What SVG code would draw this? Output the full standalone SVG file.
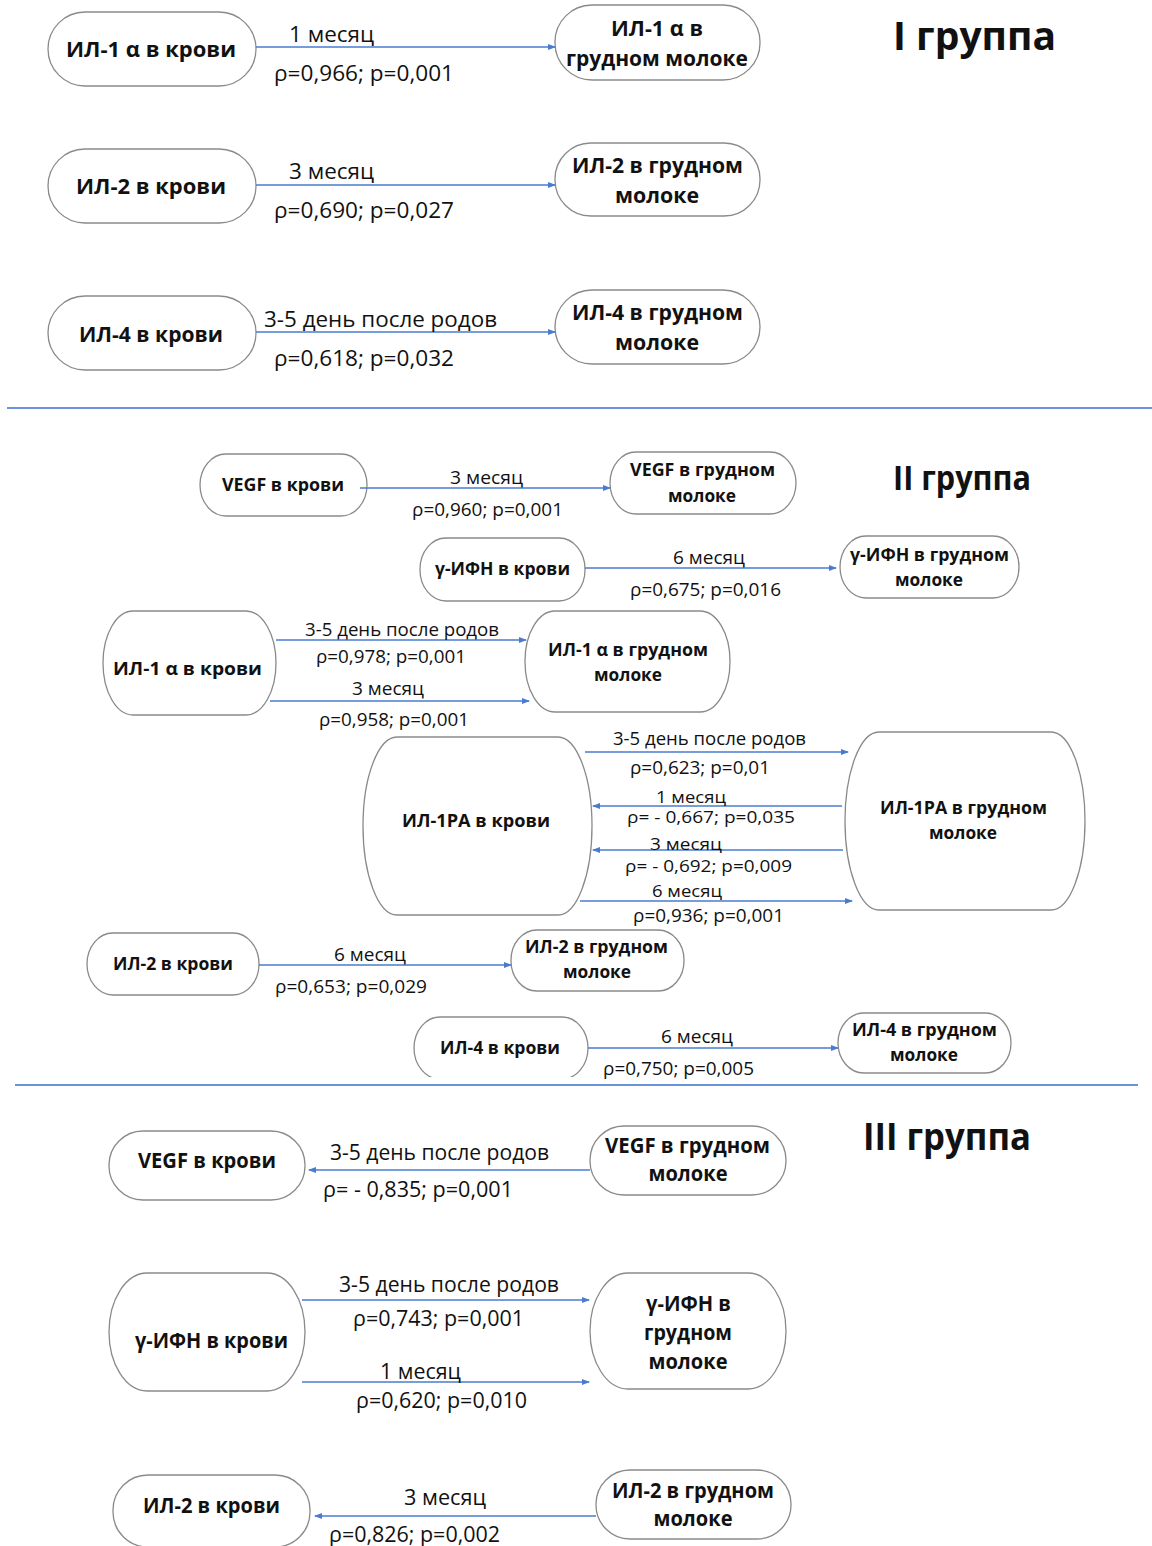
<svg xmlns="http://www.w3.org/2000/svg" width="1152" height="1546" viewBox="0 0 1152 1546">
<style>
text{font-family:"Open Sans","Noto Sans","Liberation Sans",sans-serif;fill:#111;text-anchor:middle;dominant-baseline:central}
.n{fill:#fff;stroke:#8a8a8a;stroke-width:1.3}
.b1{font-weight:700;font-size:22px}
.b2{font-weight:700;font-size:18px}
.l1{font-size:22px}
.l2{font-size:18.5px}
.l3{font-size:16.5px}
.t{font-weight:700}
.c{stroke:#4a7bd0;stroke-width:1.4;fill:none;marker-end:url(#ah)}
.sep{stroke:#3a6fcf;stroke-width:1.5}
</style>
<defs>
<marker id="ah" viewBox="0 0 8 8" refX="7" refY="4" markerWidth="8" markerHeight="8" markerUnits="userSpaceOnUse" orient="auto">
<path d="M0,1 L8,4 L0,7 Z" fill="#4a7bd0"/>
</marker>
<clipPath id="clip4"><rect x="0" y="0" width="1152" height="1077"/></clipPath>
</defs>
<rect width="1152" height="1546" fill="#fff"/>

<!-- separators -->
<line class="sep" x1="7" y1="408" x2="1152" y2="408"/>
<line class="sep" x1="15" y1="1085" x2="1138" y2="1085"/>

<!-- titles -->
<text class="t" x="974.5" y="34" font-size="40" textLength="163" lengthAdjust="spacingAndGlyphs">I  группа</text>
<text class="t" x="962" y="477" font-size="34" textLength="138" lengthAdjust="spacingAndGlyphs">II группа</text>
<text class="t" x="947" y="1135" font-size="38" textLength="168" lengthAdjust="spacingAndGlyphs">III группа</text>

<!-- ========== Group I ========== -->
<g id="g1-il1a-blood"><rect class="n" x="48" y="12" width="208" height="74" rx="37" ry="37"/><text class="b1" x="151" y="48" textLength="170" lengthAdjust="spacingAndGlyphs">ИЛ-1 α  в крови</text></g>
<g id="g1-il1a-milk"><rect class="n" x="555" y="5" width="205" height="75" rx="37" ry="37"/><text class="b1" x="657" y="27" textLength="92" lengthAdjust="spacingAndGlyphs">ИЛ-1 α в</text><text class="b1" x="657" y="57" textLength="182" lengthAdjust="spacingAndGlyphs">грудном молоке</text></g>
<g id="g1-il2-blood"><rect class="n" x="48" y="149" width="208" height="74" rx="37" ry="37"/><text class="b1" x="151" y="185" textLength="150" lengthAdjust="spacingAndGlyphs">ИЛ-2  в крови</text></g>
<g id="g1-il2-milk"><rect class="n" x="555" y="143" width="205" height="73" rx="36" ry="36"/><text class="b1" x="657.5" y="164" textLength="171" lengthAdjust="spacingAndGlyphs">ИЛ-2 в грудном</text><text class="b1" x="657" y="194" textLength="84" lengthAdjust="spacingAndGlyphs">молоке</text></g>
<g id="g1-il4-blood"><rect class="n" x="48" y="296" width="208" height="74" rx="37" ry="37"/><text class="b1" x="151" y="333" textLength="144" lengthAdjust="spacingAndGlyphs">ИЛ-4 в крови</text></g>
<g id="g1-il4-milk"><rect class="n" x="555" y="290" width="205" height="74" rx="37" ry="37"/><text class="b1" x="657.5" y="311" textLength="171" lengthAdjust="spacingAndGlyphs">ИЛ-4 в грудном</text><text class="b1" x="657" y="341" textLength="84" lengthAdjust="spacingAndGlyphs">молоке</text></g>

<!-- ========== Group II ========== -->
<g id="g2-vegf-blood"><rect class="n" x="200" y="454" width="167" height="62" rx="26" ry="31"/><text class="b2" x="283" y="484" textLength="122" lengthAdjust="spacingAndGlyphs">VEGF в крови</text></g>
<g id="g2-vegf-milk"><rect class="n" x="610" y="452" width="186" height="62" rx="26" ry="31"/><text class="b2" x="702.5" y="469" textLength="145" lengthAdjust="spacingAndGlyphs">VEGF в грудном</text><text class="b2" x="702" y="495" textLength="68" lengthAdjust="spacingAndGlyphs">молоке</text></g>
<g id="g2-ifn-blood"><rect class="n" x="420" y="538" width="165" height="63" rx="26" ry="31"/><text class="b2" x="502.5" y="568" textLength="135" lengthAdjust="spacingAndGlyphs">γ-ИФН в крови</text></g>
<g id="g2-ifn-milk"><rect class="n" x="840" y="536" width="179" height="62" rx="26" ry="31"/><text class="b2" x="929.5" y="554" textLength="159" lengthAdjust="spacingAndGlyphs">γ-ИФН в грудном</text><text class="b2" x="929" y="579" textLength="68" lengthAdjust="spacingAndGlyphs">молоке</text></g>
<g id="g2-il1a-blood"><rect class="n" x="103" y="611" width="173" height="104" rx="30" ry="52"/><text class="b2" x="187.5" y="668" textLength="149" lengthAdjust="spacingAndGlyphs">ИЛ-1 α   в крови</text></g>
<g id="g2-il1a-milk"><rect class="n" x="525" y="611" width="205" height="101" rx="30" ry="50"/><text class="b2" x="628" y="649" textLength="160" lengthAdjust="spacingAndGlyphs">ИЛ-1 α в грудном</text><text class="b2" x="628" y="674" textLength="68" lengthAdjust="spacingAndGlyphs">молоке</text></g>
<g id="g2-il1ra-blood"><rect class="n" x="363" y="737" width="229" height="178" rx="34" ry="89"/><text class="b2" x="476" y="820" textLength="148" lengthAdjust="spacingAndGlyphs">ИЛ-1РА  в крови</text></g>
<g id="g2-il1ra-milk"><rect class="n" x="845" y="732" width="240" height="178" rx="34" ry="89"/><text class="b2" x="963.5" y="807" textLength="167" lengthAdjust="spacingAndGlyphs">ИЛ-1РА в грудном</text><text class="b2" x="963" y="832" textLength="68" lengthAdjust="spacingAndGlyphs">молоке</text></g>
<g id="g2-il2-blood"><rect class="n" x="87" y="933" width="172" height="62" rx="26" ry="31"/><text class="b2" x="173" y="963" textLength="120" lengthAdjust="spacingAndGlyphs">ИЛ-2 в крови</text></g>
<g id="g2-il2-milk"><rect class="n" x="511" y="930" width="173" height="61" rx="26" ry="30"/><text class="b2" x="596.5" y="946" textLength="143" lengthAdjust="spacingAndGlyphs">ИЛ-2 в грудном</text><text class="b2" x="597" y="971" textLength="68" lengthAdjust="spacingAndGlyphs">молоке</text></g>
<g id="g2-il4-blood"><rect class="n" x="414" y="1017" width="174" height="62" rx="26" ry="31" clip-path="url(#clip4)"/><text class="b2" x="500" y="1047" textLength="120" lengthAdjust="spacingAndGlyphs">ИЛ-4 в крови</text></g>
<g id="g2-il4-milk"><rect class="n" x="838" y="1013" width="173" height="60" rx="26" ry="30"/><text class="b2" x="924.5" y="1029" textLength="145" lengthAdjust="spacingAndGlyphs">ИЛ-4 в грудном</text><text class="b2" x="924" y="1054" textLength="68" lengthAdjust="spacingAndGlyphs">молоке</text></g>

<!-- ========== Group III ========== -->
<g id="g3-vegf-blood"><rect class="n" x="109" y="1131" width="196" height="69" rx="34" ry="34"/><text class="b1" x="207" y="1159" textLength="138" lengthAdjust="spacingAndGlyphs">VEGF в крови</text></g>
<g id="g3-vegf-milk"><rect class="n" x="590" y="1126" width="196" height="69" rx="34" ry="34"/><text class="b1" x="687.5" y="1144" textLength="165" lengthAdjust="spacingAndGlyphs">VEGF в грудном</text><text class="b1" x="688" y="1172" textLength="79" lengthAdjust="spacingAndGlyphs">молоке</text></g>
<g id="g3-ifn-blood"><rect class="n" x="109" y="1273" width="196" height="118" rx="38" ry="59"/><text class="b1" x="211.5" y="1339" textLength="153" lengthAdjust="spacingAndGlyphs">γ-ИФН в крови</text></g>
<g id="g3-ifn-milk"><rect class="n" x="590" y="1273" width="196" height="116" rx="38" ry="58"/><text class="b1" x="688.5" y="1302" textLength="85" lengthAdjust="spacingAndGlyphs">γ-ИФН в</text><text class="b1" x="688" y="1331" textLength="88" lengthAdjust="spacingAndGlyphs">грудном</text><text class="b1" x="688" y="1360" textLength="79" lengthAdjust="spacingAndGlyphs">молоке</text></g>
<g id="g3-il2-blood"><rect class="n" x="113" y="1475" width="197" height="72" rx="35" ry="35"/><text class="b1" x="211.5" y="1504" textLength="137" lengthAdjust="spacingAndGlyphs">ИЛ-2 в крови</text></g>
<g id="g3-il2-milk"><rect class="n" x="596" y="1470" width="195" height="69" rx="34" ry="34"/><text class="b1" x="693" y="1489" textLength="162" lengthAdjust="spacingAndGlyphs">ИЛ-2 в грудном</text><text class="b1" x="693" y="1517" textLength="79" lengthAdjust="spacingAndGlyphs">молоке</text></g>

<!-- ========== Connectors ========== -->
<g id="connectors">
<line class="c" x1="256" y1="47" x2="555" y2="47"/>
<line class="c" x1="256" y1="185" x2="555" y2="185"/>
<line class="c" x1="256" y1="332" x2="555" y2="332"/>
<line class="c" x1="360" y1="488" x2="610" y2="488"/>
<line class="c" x1="585" y1="568" x2="836" y2="568"/>
<line class="c" x1="276" y1="640" x2="526" y2="640"/>
<line class="c" x1="270" y1="701" x2="529" y2="701"/>
<line class="c" x1="585" y1="752" x2="848" y2="752"/>
<line class="c" x1="842" y1="806" x2="593" y2="806"/>
<line class="c" x1="843" y1="850" x2="593" y2="850"/>
<line class="c" x1="580" y1="901" x2="852" y2="901"/>
<line class="c" x1="259" y1="965" x2="511" y2="965"/>
<line class="c" x1="588" y1="1048" x2="838" y2="1048"/>
<line class="c" x1="590" y1="1170" x2="309" y2="1170"/>
<line class="c" x1="302" y1="1300" x2="589" y2="1300"/>
<line class="c" x1="302" y1="1382" x2="589" y2="1382"/>
<line class="c" x1="596" y1="1516" x2="315" y2="1516"/>
</g>

<!-- connector labels -->
<g id="labels">
<text class="l1" x="331.5" y="33" textLength="85" lengthAdjust="spacingAndGlyphs">1 месяц</text>
<text class="l1" x="364" y="72" textLength="180" lengthAdjust="spacingAndGlyphs">ρ=0,966; p=0,001</text>
<text class="l1" x="331.5" y="170" textLength="85" lengthAdjust="spacingAndGlyphs">3 месяц</text>
<text class="l1" x="364" y="209" textLength="180" lengthAdjust="spacingAndGlyphs">ρ=0,690; p=0,027</text>
<text class="l1" x="380.5" y="318" textLength="233" lengthAdjust="spacingAndGlyphs">3-5 день после родов</text>
<text class="l1" x="364" y="357" textLength="180" lengthAdjust="spacingAndGlyphs">ρ=0,618; p=0,032</text>

<text class="l2" x="486.5" y="476" textLength="73" lengthAdjust="spacingAndGlyphs">3 месяц</text>
<text class="l2" x="487.5" y="508" textLength="151" lengthAdjust="spacingAndGlyphs">ρ=0,960; p=0,001</text>
<text class="l2" x="709" y="556" textLength="72" lengthAdjust="spacingAndGlyphs">6 месяц</text>
<text class="l2" x="705.5" y="588" textLength="151" lengthAdjust="spacingAndGlyphs">ρ=0,675; p=0,016</text>
<text class="l2" x="402" y="628" textLength="194" lengthAdjust="spacingAndGlyphs">3-5 день после родов</text>
<text class="l2" x="391" y="655" textLength="150" lengthAdjust="spacingAndGlyphs">ρ=0,978; p=0,001</text>
<text class="l2" x="388" y="687" textLength="72" lengthAdjust="spacingAndGlyphs">3 месяц</text>
<text class="l2" x="394" y="718" textLength="150" lengthAdjust="spacingAndGlyphs">ρ=0,958; p=0,001</text>
<text class="l2" x="709.5" y="737" textLength="193" lengthAdjust="spacingAndGlyphs">3-5 день после родов</text>
<text class="l2" x="700" y="766" textLength="140" lengthAdjust="spacingAndGlyphs">ρ=0,623; p=0,01</text>
<text class="l3" x="691" y="796" textLength="70" lengthAdjust="spacingAndGlyphs">1 месяц</text>
<text class="l3" x="711" y="816" textLength="168" lengthAdjust="spacingAndGlyphs">ρ= - 0,667; p=0,035</text>
<text class="l3" x="686" y="843" textLength="72" lengthAdjust="spacingAndGlyphs">3 месяц</text>
<text class="l3" x="708.5" y="865" textLength="167" lengthAdjust="spacingAndGlyphs">ρ= - 0,692; p=0,009</text>
<text class="l3" x="687" y="890" textLength="70" lengthAdjust="spacingAndGlyphs">6 месяц</text>
<text class="l2" x="708.5" y="914" textLength="151" lengthAdjust="spacingAndGlyphs">ρ=0,936; p=0,001</text>
<text class="l2" x="370" y="953" textLength="72" lengthAdjust="spacingAndGlyphs">6 месяц</text>
<text class="l2" x="351" y="985" textLength="152" lengthAdjust="spacingAndGlyphs">ρ=0,653; p=0,029</text>
<text class="l2" x="697" y="1035" textLength="72" lengthAdjust="spacingAndGlyphs">6 месяц</text>
<text class="l2" x="678.5" y="1067" textLength="151" lengthAdjust="spacingAndGlyphs">ρ=0,750; p=0,005</text>

<text class="l1" x="439.5" y="1151" textLength="219" lengthAdjust="spacingAndGlyphs">3-5 день после родов</text>
<text class="l1" x="418" y="1188" textLength="190" lengthAdjust="spacingAndGlyphs">ρ= - 0,835; p=0,001</text>
<text class="l1" x="449" y="1283" textLength="220" lengthAdjust="spacingAndGlyphs">3-5 день после родов</text>
<text class="l1" x="438.5" y="1317" textLength="171" lengthAdjust="spacingAndGlyphs">ρ=0,743; p=0,001</text>
<text class="l1" x="420.5" y="1370" textLength="81" lengthAdjust="spacingAndGlyphs">1 месяц</text>
<text class="l1" x="441.5" y="1399" textLength="171" lengthAdjust="spacingAndGlyphs">ρ=0,620; p=0,010</text>
<text class="l1" x="445" y="1496" textLength="82" lengthAdjust="spacingAndGlyphs">3 месяц</text>
<text class="l1" x="414.5" y="1533" textLength="171" lengthAdjust="spacingAndGlyphs">ρ=0,826; p=0,002</text>
</g>
</svg>
